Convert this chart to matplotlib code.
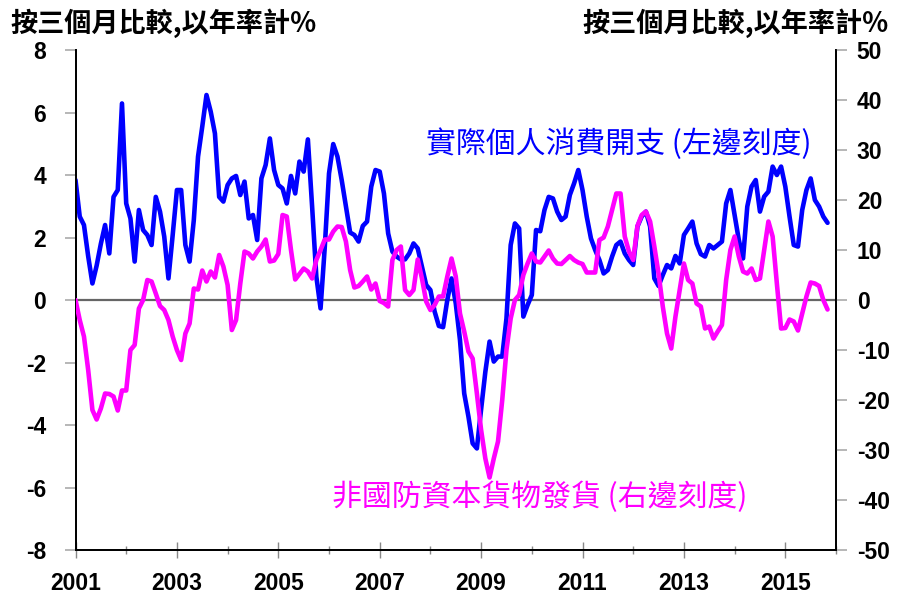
import matplotlib
matplotlib.use("Agg")
import matplotlib.pyplot as plt
import numpy as np

plt.rcParams['font.family'] = ['Liberation Sans', 'Noto Sans CJK TC', 'DejaVu Sans']
plt.rcParams['axes.unicode_minus'] = False

start_year = 2001
pce = [3.84, 2.67, 2.4, 1.4, 0.53, 1.1, 1.8, 2.4, 1.49, 3.3,
       3.52, 6.29, 3.09, 2.61, 1.23, 2.88, 2.24, 2.08, 1.76, 3.3,
       2.83, 2.03, 0.69, 2.08, 3.52, 3.52, 1.76, 1.23, 2.56, 4.59,
       5.55, 6.56, 6.03, 5.33, 3.3, 3.15, 3.68, 3.89, 3.97, 3.36,
       3.79, 2.61, 2.72, 1.92, 3.89, 4.32, 5.17, 4.16, 3.68, 3.57,
       3.09, 3.97, 3.41, 4.43, 4.11, 5.14, 2.99, 0.75, -0.27, 1.7,
       4.05, 4.99, 4.59, 3.84, 2.99, 2.16, 2.08, 1.87, 2.37, 2.51,
       3.63, 4.16, 4.11, 3.41, 2.13, 1.55, 1.39, 1.3, 1.3, 1.49,
       1.81, 1.65, 1.07, 0.48, 0.32, -0.37, -0.83, -0.87, 0.0, 0.69,
       -0.11, -1.28, -2.99, -3.73, -4.59, -4.75, -3.5, -2.3, -1.33, -1.97,
       -1.81, -1.81, -0.59, 1.76, 2.45, 2.29, -0.53, -0.16, 0.16, 2.24,
       2.2, 2.88, 3.3, 3.25, 2.83, 2.56, 2.67, 3.36, 3.73, 4.16,
       3.52, 2.67, 1.97, 1.6, 1.28, 0.85, 0.96, 1.39, 1.76, 1.87,
       1.49, 1.28, 1.12, 2.35, 2.67, 2.83, 2.35, 0.69, 0.45, 0.8,
       1.12, 1.01, 1.41, 1.17, 2.08, 2.29, 2.51, 1.81, 1.47, 1.39,
       1.76, 1.65, 1.76, 1.87, 3.09, 3.52, 2.72, 1.92, 1.33, 2.99,
       3.63, 3.84, 2.83, 3.31, 3.47, 4.27, 4.0, 4.27, 3.63, 2.67,
       1.76, 1.71, 2.88, 3.52, 3.89, 3.2, 2.99, 2.67, 2.47]

capgoods = [0, -4, -7.3, -14, -22, -23.9, -21.7, -18.7, -18.8, -19.3,
            -22.1, -18.1, -18.1, -10, -9, -1.7, 0, 4, 3.7, 1.3,
            -1.2, -2, -4, -7.3, -10, -12, -6.7, -4.7, 2.3, 2.1,
            5.9, 3.7, 5.7, 4.5, 9, 6.7, 3, -6, -4, 3.3,
            9.7, 9.3, 8.3, 9.7, 10.7, 12.1, 7.7, 7.9, 9.2, 17,
            16.7, 10, 4.1, 5.2, 6.3, 5.7, 4.3, 8, 10, 12.1,
            12.1, 13.7, 14.7, 14.6, 11.7, 6, 2.5, 2.8, 3.7, 4.7,
            2.1, 3.3, -0.2, -0.6, -1.3, 8, 10, 10.7, 2, 1,
            2, 8.1, 4.3, -0.3, -2, -1, 0.7, 0.7, 4.7, 8.3,
            4.7, -2.7, -6.3, -10.3, -11.7, -18.7, -26, -31.7, -35.5, -31.7,
            -28.3, -20, -10, -3.7, 0, 1, 5, 7.3, 9.3, 7.7,
            7.5, 8.7, 9.9, 8.3, 7.3, 7.2, 8, 8.8, 8, 7.5,
            7.2, 5.5, 5.5, 5.5, 12, 12.5, 14.7, 18, 21.3, 21.3,
            12.7, 9.7, 8, 14.8, 17, 17.7, 15.7, 10.7, 5.3, -1.3,
            -6.7, -9.7, -3.3, 2, 7.3, 4, 3.3, -0.7, -1.3, -5.7,
            -5.3, -7.7, -6.3, -5, 4, 10, 12.7, 8.7, 5.7, 5.3,
            6.3, 4, 4.3, 10, 15.7, 12.7, 3.3, -5.7, -5.6, -3.9,
            -4.3, -6.1, -2.7, 0.7, 3.5, 3.3, 2.8, 0, -1.9]

year_labels = [str(y) for y in range(2001, 2017, 2)]
left_ticks = [-8, -6, -4, -2, 0, 2, 4, 6, 8]
right_ticks = [-50, -40, -30, -20, -10, 0, 10, 20, 30, 40, 50]
axis_title = "按三個月比較,以年率計%"
label_pce = "實際個人消費開支 (左邊刻度)"
label_cap = "非國防資本貨物發貨 (右邊刻度)"

x = start_year + np.arange(len(pce)) / 12.0

fig = plt.figure(figsize=(9, 5.99), dpi=100)
ax = fig.add_axes([0.0839, 0.0818, 0.845, 0.8347])
ax2 = ax.twinx()

ax.axhline(0, color='#666666', lw=1.6, zorder=1)
ax.plot(x, pce, color='#0000FF', lw=3.3, solid_joinstyle='round', solid_capstyle='round', zorder=3)
ax2.plot(x, capgoods, color='#FF00FF', lw=3.3, solid_joinstyle='round', solid_capstyle='round', zorder=3)

ax.set_xlim(2001, 2016)
ax.set_ylim(-8, 8)
ax2.set_ylim(-50, 50)

ax.set_xticks(list(range(2001, 2017, 2)))
ax.set_xticklabels(year_labels)
ax.set_xticks(list(range(2002, 2017, 2)), minor=True)
ax.set_yticks(left_ticks)
ax.set_yticklabels([str(v) for v in left_ticks])
ax2.set_yticks(right_ticks)
ax2.set_yticklabels([str(v) for v in right_ticks])

bold = dict(family='Liberation Sans', weight='bold', size=16.5)
for lab in ax.get_xticklabels() + ax.get_yticklabels() + ax2.get_yticklabels():
    lab.set_fontproperties(matplotlib.font_manager.FontProperties(**bold))

ax.tick_params(axis='x', which='major', direction='inout', length=12, width=1, color='#888888', pad=10)
ax.tick_params(axis='x', which='minor', direction='inout', length=6, width=1, color='#888888')
ax.tick_params(axis='y', direction='out', length=8, width=1.2, color='#aaaaaa', pad=13)
ax2.tick_params(axis='y', direction='out', length=8, width=1.2, color='#aaaaaa', pad=7)

for a in (ax, ax2):
    a.spines['top'].set_visible(False)
    for s in ('left', 'right', 'bottom'):
        a.spines[s].set_color('black')
        a.spines[s].set_linewidth(1.3)

cjk = ['Noto Sans CJK TC', 'DejaVu Sans']
fig.text(0.012, 0.962, axis_title, family=cjk, fontsize=19.5, weight='bold', ha='left', va='center')
fig.text(0.987, 0.962, axis_title, family=cjk, fontsize=19.5, weight='bold', ha='right', va='center')

ax.text(2007.92, 4.98, label_pce, family=cjk, fontsize=21.5, weight='medium', color='#0000FF', ha='left', va='center')
ax.text(2006.06, -6.3, label_cap, family=cjk, fontsize=21.5, weight='medium', color='#FF00FF', ha='left', va='center')

fig.savefig('out.png', dpi=100)
